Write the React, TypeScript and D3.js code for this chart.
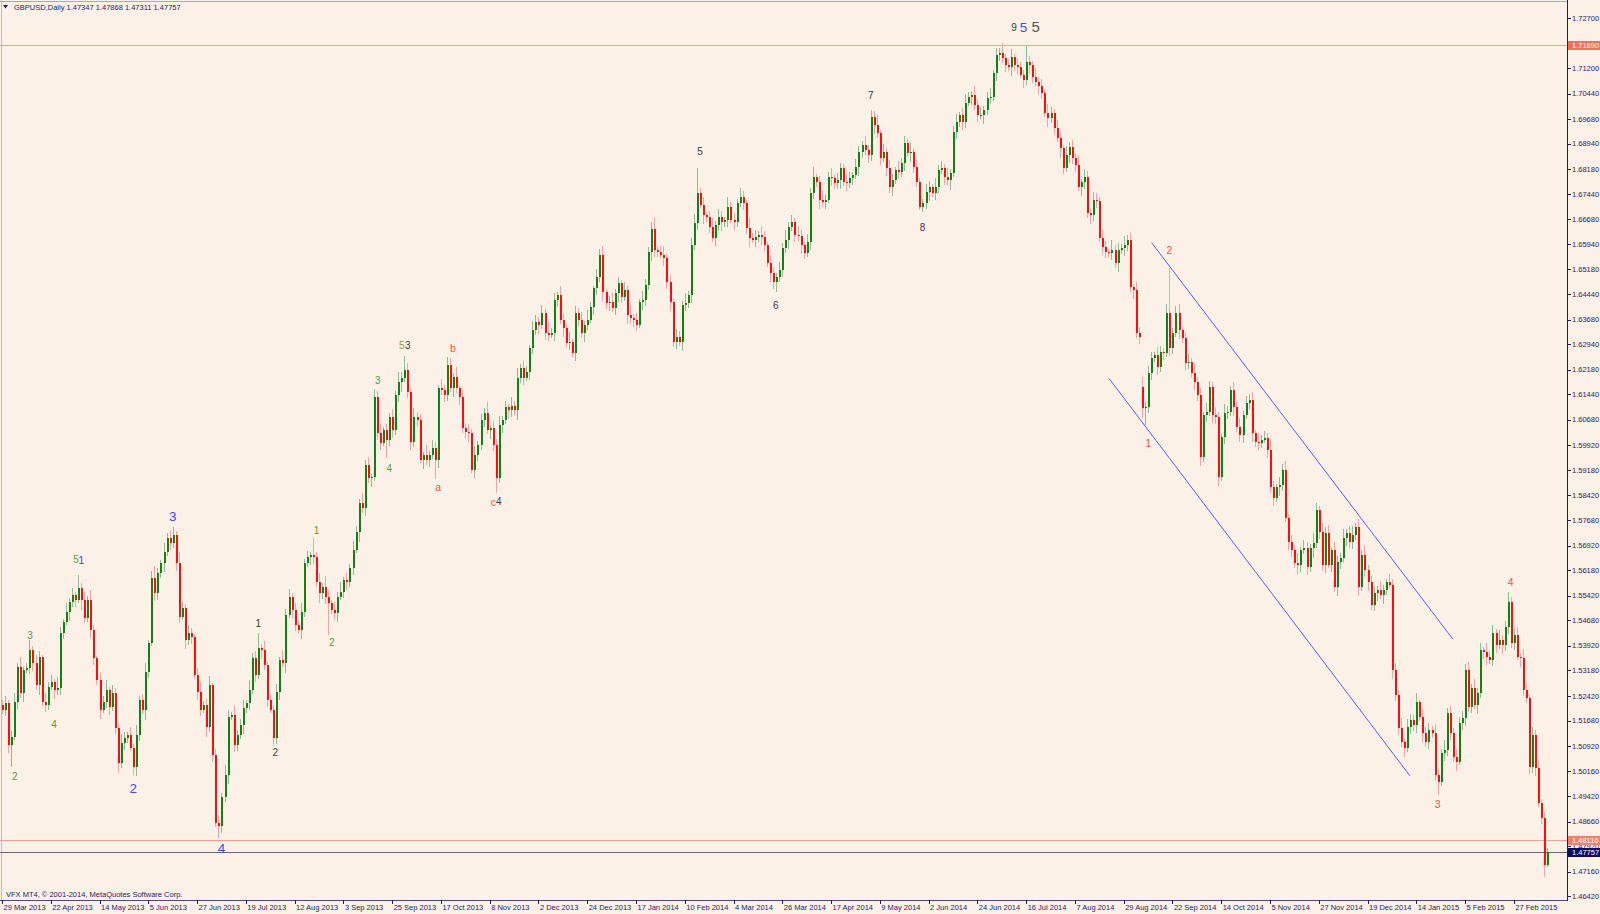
import React, { useEffect, useRef } from "react";
import * as d3 from "d3";

// GBPUSD daily, 29 Mar 2013 .. 16 Mar 2015 (closes; open = previous close)
const firstOpen = 1.5215;

const closes2013a = [
  1.5200, 1.5221, 1.5095, 1.5119, 1.5224, 1.5328, 1.5251, 1.5319, 1.5325, 1.5379,
  1.5340, 1.5274, 1.5358, 1.5224, 1.5215, 1.5268, 1.5283, 1.5260, 1.5266, 1.5430,
  1.5463, 1.5493, 1.5523, 1.5544, 1.5529, 1.5565, 1.5529, 1.5475, 1.5529, 1.5439,
  1.5355, 1.5289, 1.5200, 1.5224, 1.5260, 1.5209, 1.5251, 1.5146, 1.5041, 1.5101,
  1.5116, 1.5125, 1.5086, 1.5029, 1.5125, 1.5230, 1.5200, 1.5313, 1.5400, 1.5595,
  1.5550, 1.5610, 1.5640, 1.5672, 1.5714, 1.5699, 1.5723, 1.5640, 1.5478, 1.5505,
  1.5409, 1.5430, 1.5418, 1.5304, 1.5254, 1.5200, 1.5215, 1.5149, 1.5274, 1.5065,
  1.4862, 1.4853, 1.4939, 1.5005, 1.5179, 1.5185, 1.5095, 1.5125, 1.5155, 1.5206,
  1.5221, 1.5260, 1.5355, 1.5304, 1.5385,
];

const closes2013b = [
  1.5379, 1.5334, 1.5230, 1.5200, 1.5116, 1.5254, 1.5349, 1.5340, 1.5484, 1.5538,
  1.5499, 1.5454, 1.5439, 1.5493, 1.5640, 1.5657, 1.5663, 1.5657, 1.5583, 1.5550,
  1.5568, 1.5538, 1.5520, 1.5499, 1.5490, 1.5538, 1.5553, 1.5589, 1.5583, 1.5625,
  1.5678, 1.5732, 1.5819, 1.5804, 1.5933, 1.5894, 1.5897, 1.6136, 1.6028, 1.5999,
  1.6037, 1.6008, 1.6076, 1.6037, 1.6142, 1.6181, 1.6193, 1.6217, 1.6151, 1.6002,
  1.6076, 1.6067, 1.5948, 1.5963, 1.5948, 1.5963, 1.5984, 1.5948, 1.6163, 1.6157,
  1.6142, 1.6232, 1.6163, 1.6196, 1.6163, 1.6136, 1.6043, 1.6031, 1.6028, 1.5918,
  1.5963, 1.5993, 1.6067, 1.6088, 1.6037, 1.6043, 1.5993, 1.5894, 1.6052, 1.6067,
  1.6106, 1.6097, 1.6109, 1.6097, 1.6193,
];

const closes2014a = [
  1.6223, 1.6193, 1.6211, 1.6283, 1.6337, 1.6361, 1.6352, 1.6388, 1.6328, 1.6322,
  1.6328, 1.6426, 1.6441, 1.6367, 1.6343, 1.6298, 1.6301, 1.6268, 1.6388, 1.6367,
  1.6328, 1.6352, 1.6367, 1.6405, 1.6462, 1.6495, 1.6561, 1.6450, 1.6417, 1.6420,
  1.6402, 1.6447, 1.6477, 1.6435, 1.6456, 1.6382, 1.6373, 1.6367, 1.6352, 1.6420,
  1.6426, 1.6471, 1.6570, 1.6639, 1.6576, 1.6570, 1.6561, 1.6552, 1.6480, 1.6420,
  1.6301, 1.6316, 1.6301, 1.6411, 1.6417, 1.6441, 1.6591, 1.6657, 1.6747, 1.6711,
  1.6681, 1.6675, 1.6645, 1.6612, 1.6651, 1.6675, 1.6660, 1.6666, 1.6705, 1.6666,
  1.6660, 1.6717, 1.6735, 1.6717, 1.6642, 1.6612, 1.6606, 1.6615, 1.6621, 1.6615,
  1.6591, 1.6537, 1.6507, 1.6480, 1.6495, 1.6516,
];

const closes2014b = [
  1.6582, 1.6606, 1.6645, 1.6660, 1.6621, 1.6618, 1.6591, 1.6567, 1.6600, 1.6747,
  1.6794, 1.6779, 1.6726, 1.6720, 1.6726, 1.6794, 1.6791, 1.6776, 1.6785, 1.6821,
  1.6779, 1.6776, 1.6791, 1.6800, 1.6824, 1.6869, 1.6890, 1.6875, 1.6860, 1.6974,
  1.6950, 1.6926, 1.6851, 1.6869, 1.6821, 1.6764, 1.6785, 1.6815, 1.6809, 1.6836,
  1.6896, 1.6866, 1.6869, 1.6824, 1.6779, 1.6705, 1.6717, 1.6750, 1.6764, 1.6747,
  1.6764, 1.6815, 1.6821, 1.6794, 1.6785, 1.6806, 1.6929, 1.6959, 1.6980, 1.6959,
  1.7016, 1.7034, 1.7040, 1.7010, 1.6980, 1.6980, 1.6995, 1.7031, 1.7034, 1.7106,
  1.7159, 1.7165, 1.7150, 1.7130, 1.7124, 1.7153, 1.7130, 1.7124, 1.7100, 1.7085,
  1.7138, 1.7130, 1.7094, 1.7079, 1.7067, 1.7046,
];

const closes2014c = [
  1.6986, 1.6971, 1.6986, 1.6941, 1.6911, 1.6881, 1.6821, 1.6860, 1.6884, 1.6851,
  1.6830, 1.6764, 1.6779, 1.6794, 1.6687, 1.6681, 1.6726, 1.6723, 1.6612, 1.6585,
  1.6570, 1.6567, 1.6576, 1.6537, 1.6576, 1.6582, 1.6591, 1.6606, 1.6465, 1.6456,
  1.6328, 1.6316, 1.6103, 1.6106, 1.6208, 1.6253, 1.6262, 1.6226, 1.6271, 1.6268,
  1.6388, 1.6283, 1.6328, 1.6388, 1.6337, 1.6313, 1.6238, 1.6241, 1.6208, 1.6181,
  1.6142, 1.5957, 1.6082, 1.6091, 1.6166, 1.6082, 1.6076, 1.5897, 1.6017, 1.6088,
  1.6091, 1.6157, 1.6106, 1.6046, 1.6022, 1.6082, 1.6118, 1.6127, 1.6028, 1.6002,
  1.5999, 1.6008, 1.6014, 1.5978, 1.5867, 1.5834, 1.5867, 1.5873, 1.5918, 1.5774,
  1.5702, 1.5678, 1.5640, 1.5634,
];

const closes2015 = [
  1.5678, 1.5684, 1.5628, 1.5684, 1.5699, 1.5798, 1.5732, 1.5634, 1.5729, 1.5634,
  1.5678, 1.5568, 1.5642, 1.5654, 1.5714, 1.5729, 1.5702, 1.5723, 1.5747, 1.5568,
  1.5663, 1.5619, 1.5583, 1.5514, 1.5550, 1.5559, 1.5544, 1.5559, 1.5583, 1.5574,
  1.5319, 1.5245, 1.5146, 1.5104, 1.5086, 1.5149, 1.5170, 1.5155, 1.5224, 1.5179,
  1.5131, 1.5104, 1.5140, 1.5131, 1.5005, 1.4984, 1.5071, 1.5080, 1.5191, 1.5131,
  1.5059, 1.5044, 1.5161, 1.5176, 1.5319, 1.5209, 1.5266, 1.5215, 1.5251, 1.5379,
  1.5373, 1.5358, 1.5349, 1.5430, 1.5394, 1.5409, 1.5394, 1.5448, 1.5523, 1.5400,
  1.5424, 1.5358, 1.5355, 1.5260, 1.5236, 1.5029,
  1.5125, 1.5026, 1.4921, 1.4877, 1.47347, 1.47757,
];

// weekend gap opens [bar, open]
const gapOpens: [number, number][] = [[374, 1.6166]];

// wick length above the body, pips
const upWick = [
  14, 22, 9, 18, 27, 12, 30, 8, 16, 30, 11, 24, 19, 7, 28, 15, 21, 10, 33, 17,
  9, 26, 13, 20, 8, 39, 16, 25, 11, 31, 14, 7, 22, 18, 29, 10, 23, 15, 12, 27,
  19, 8, 24, 13, 30, 11, 17, 26, 9, 21, 35, 14, 10, 28, 16, 20, 24, 12, 33, 18,
  11, 25, 15, 9, 22, 30, 13, 19, 27, 8, 17, 24, 12, 29, 20, 10, 26, 14, 18, 23,
  9, 31, 16, 21, 45, 12, 27, 10, 19, 14, 23, 8, 30, 17, 25, 11, 22, 15, 28, 13,
  20, 9, 51, 17, 26, 12, 33, 18, 10, 24, 15, 29, 8, 21, 13, 27, 19, 11, 30, 16,
  23, 10, 24, 18, 28, 9, 20, 14, 25, 12, 31, 17, 42, 22, 11, 26, 15, 19, 8, 29,
  13, 24, 18, 10, 27, 16, 24, 21, 12, 30, 9, 22, 17, 25, 14, 28, 11, 20, 15, 33,
  10, 23, 18, 27, 12, 19, 8, 26, 15, 30, 13, 21, 17, 9, 28, 20, 14, 24, 11, 32,
  16, 22, 10, 27, 18, 13, 29, 9, 21, 15, 25, 12, 30, 17, 8, 23, 19, 26, 11, 20,
  28, 14, 18, 9, 24, 16, 31, 12, 21, 10, 27, 19, 15, 22, 33, 11, 17, 26, 13, 20,
  9, 25, 18, 14, 30, 12, 21, 27, 74, 16, 23, 10, 19, 28, 13, 24, 17, 9, 31, 15,
  22, 12, 26, 18, 10, 29, 15, 21, 13, 27, 17, 9, 24, 19, 11, 25, 14, 30, 16, 20,
  12, 27, 18, 9, 23, 15, 32, 11, 20, 26, 14, 17, 28, 10, 22, 16, 13, 25, 19, 9,
  24, 17, 12, 28, 15, 21, 19, 30, 10, 23, 14, 26, 18, 11, 27, 16, 20, 13, 29, 9,
  21, 14, 11, 25, 18, 10, 27, 16, 22, 13, 29, 12, 19, 24, 9, 20, 26, 15, 11, 28,
  17, 23, 12, 19, 27, 10, 22, 15, 30, 13, 18, 25, 11, 21, 16, 14, 51, 20, 12, 26,
  15, 22, 10, 28, 17, 13, 24, 19, 9, 27, 14, 21, 16, 30, 11, 25, 18, 12, 23, 20,
  13, 26, 18, 10, 29, 16, 22, 12, 27, 15, 20, 11, 25, 17, 30, 14, 21, 19, 9, 24,
  18, 12, 28, 134, 16, 22, 27, 10, 19, 25, 13, 30, 15, 21, 11, 26, 18, 14, 24, 17,
  10, 27, 19, 13, 24, 16, 29, 12, 21, 18, 25, 11, 28, 15, 20, 14, 33, 17, 9, 23,
  19, 26, 13, 22, 16, 29, 11, 24, 18, 14, 30, 21, 12, 27, 17, 23, 10, 25, 19, 15,
  28, 13, 20, 26, 11, 24, 17, 31, 15, 19, 22, 12, 27, 16, 9, 25, 18, 21, 14, 30,
  12, 23, 19, 15, 28, 10, 24, 17, 21, 13, 26, 18, 11, 29, 16, 20, 14, 25, 19, 22,
  17, 24, 13, 28, 15, 21, 10, 26, 19, 23, 12, 29, 16, 18, 30, 14, 20, 25, 11, 27,
  18, 13, 24, 16, 21, 12, 19, 11.1,
];

// wick length below the body, pips
const downWick = [
  12, 19, 25, 66, 10, 21, 14, 28, 9, 17, 23, 13, 30, 11, 20, 16, 8, 26, 15, 22,
  18, 10, 27, 14, 22, 9, 31, 16, 12, 24, 20, 13, 28, 8, 19, 25, 11, 17, 29, 14,
  21, 15, 10, 24, 26, 18, 12, 29, 16, 9, 23, 20, 14, 27, 11, 19, 13, 25, 17, 10,
  28, 14, 20, 11, 24, 17, 9, 30, 15, 22, 12, 36, 20, 16, 26, 10, 21, 18, 13, 27,
  15, 22, 11, 19, 12, 28, 14, 20, 9, 21, 17, 25, 13, 30, 10, 23, 18, 12, 26, 16,
  11, 24, 19, 14, 29, 17, 22, 96, 13, 20, 27, 10, 18, 25, 15, 21, 9, 28, 16, 23,
  14, 26, 12, 19, 22, 10, 54, 17, 24, 13, 20, 29, 11, 18, 25, 15, 21, 9, 27, 16,
  22, 12, 57, 25, 14, 20, 17, 11, 28, 16, 23, 13, 19, 26, 10, 24, 18, 15, 21, 12,
  27, 17, 45, 14, 22, 11, 25, 19, 13, 29, 16, 20, 10, 24, 18, 14, 26, 12, 21, 17,
  9, 24, 19, 13, 27, 15, 21, 11, 25, 18, 14, 28, 16, 10, 22, 19, 13, 26, 17, 23,
  12, 20, 25, 16, 11, 28, 14, 22, 18, 9, 24, 17, 13, 26, 20, 15, 10, 23, 19, 27,
  14, 21, 11, 26, 18, 13, 24, 16, 20, 10, 27, 15, 19, 12, 23, 17, 28, 14, 21, 9,
  25, 16, 12, 22, 18, 28, 10, 20, 14, 24, 17, 11, 26, 19, 30, 13, 21, 15, 27, 12,
  20, 14, 26, 17, 11, 23, 19, 13, 28, 15, 21, 10, 24, 18, 16, 27, 12, 22, 14, 19,
  11, 25, 18, 13, 22, 16, 28, 14, 20, 10, 24, 17, 26, 12, 19, 15, 23, 11, 27, 18,
  14, 10, 15, 19, 26, 13, 21, 17, 11, 24, 16, 28, 12, 20, 15, 23, 18, 10, 25, 14,
  21, 13, 27, 16, 19, 11, 24, 18, 14, 22, 12, 26, 17, 20, 10, 23, 15, 28, 19, 13,
  24, 17, 11, 26, 15, 20, 13, 28, 18, 12, 23, 16, 21, 10, 25, 19, 14, 27, 17, 22,
  12, 25, 18, 14, 21, 16, 27, 11, 23, 19, 13, 26, 15, 20, 28, 49, 17, 22, 12, 24,
  16, 21, 13, 25, 19, 11, 27, 15, 22, 18, 12, 24, 17, 26, 14, 20, 10, 23, 19, 28,
  13, 22, 17, 11, 26, 15, 20, 24, 12, 18, 27, 14, 21, 16, 10, 25, 19, 23, 13, 28,
  17, 12, 24, 19, 14, 26, 21, 11, 23, 16, 28, 13, 20, 18, 25, 10, 22, 15, 27, 19,
  12, 24, 17, 21, 14, 28, 11, 20, 26, 15, 19, 23, 13, 27, 16, 10, 25, 18, 22, 14,
  26, 13, 20, 17, 24, 11, 28, 16, 21, 14, 19, 39, 12, 25, 18, 22, 15, 27, 10, 20,
  23, 16, 19, 12, 27, 14, 21, 25, 11, 18, 24, 13, 26, 17, 20, 15, 22, 10, 28, 19,
  14, 21, 17, 25, 12, 19, 35, 3.6,
];

// time axis: one label every 16 bars
const dateLabels = [
  "29 Mar 2013", "22 Apr 2013", "14 May 2013", "5 Jun 2013", "27 Jun 2013", "19 Jul 2013",
  "12 Aug 2013", "3 Sep 2013", "25 Sep 2013", "17 Oct 2013", "8 Nov 2013", "2 Dec 2013",
  "24 Dec 2013", "17 Jan 2014", "10 Feb 2014", "4 Mar 2014", "26 Mar 2014", "17 Apr 2014",
  "9 May 2014", "2 Jun 2014", "24 Jun 2014", "16 Jul 2014", "7 Aug 2014", "29 Aug 2014",
  "22 Sep 2014", "14 Oct 2014", "5 Nov 2014", "27 Nov 2014", "19 Dec 2014", "14 Jan 2015",
  "5 Feb 2015", "27 Feb 2015",
];

const priceTicks = [
  "1.72700", "1.71950", "1.71200", "1.70440", "1.69680", "1.68940", "1.68180", "1.67440",
  "1.66680", "1.65940", "1.65180", "1.64440", "1.63680", "1.62940", "1.62180", "1.61440",
  "1.60680", "1.59920", "1.59180", "1.58420", "1.57680", "1.56920", "1.56180", "1.55420",
  "1.54680", "1.53920", "1.53180", "1.52420", "1.51680", "1.50920", "1.50160", "1.49420",
  "1.48660", "1.47920", "1.47160", "1.46420",
];

const levelLines = [1.7189, 1.48116];
const bidPrice = 1.47757;

// trend channel [bar0, price0, bar1, price1]
const channelLines: [number, number, number, number][] = [
  [377.2, 1.6598, 476.0, 1.5412],
  [363.2, 1.6192, 461.9, 1.5003],
];

// wave counts: [bar, price, text, kind]
const waveLabels: [number, number, string, string][] = [
  [4.2, 1.5002, "2", "g"],
  [9.2, 1.5424, "3", "g"],
  [17.1, 1.5157, "4", "g"],
  [24.3, 1.5649, "5", "g"],
  [26.0, 1.5649, "1", "bm"],
  [43.1, 1.4967, "2", "B"],
  [56.0, 1.578, "3", "B"],
  [72.0, 1.4787, "4", "B"],
  [84.1, 1.5459, "1", "k"],
  [89.7, 1.5074, "2", "k"],
  [103.2, 1.5736, "1", "g"],
  [108.2, 1.5402, "2", "g"],
  [123.3, 1.6187, "3", "g"],
  [127.1, 1.5923, "4", "g"],
  [131.2, 1.629, "5", "o"],
  [133.1, 1.629, "3", "k"],
  [147.9, 1.6282, "b", "r"],
  [143.1, 1.5866, "a", "r"],
  [161.2, 1.5823, "c", "r"],
  [163.0, 1.5823, "4", "k"],
  [229.0, 1.687, "5", "k"],
  [253.9, 1.641, "6", "k"],
  [285.0, 1.704, "7", "k"],
  [302.0, 1.6644, "8", "k"],
  [332.0, 1.7243, "9", "k"],
  [335.1, 1.7243, "5", "B"],
  [339.1, 1.7244, "5", "K"],
  [383.0, 1.6576, "2", "r"],
  [376.1, 1.5998, "1", "r"],
  [471.0, 1.4919, "3", "r"],
  [495.0, 1.5582, "4", "r"],
];

const labelStyle: Record<string, { color: string; size: number }> = {
  g: { color: "#5b9b3b", size: 10 },
  o: { color: "#8c9c3a", size: 10 },
  bm: { color: "#4646ff", size: 11 },
  B: { color: "#4646ff", size: 13.5 },
  k: { color: "#3a3a3a", size: 10 },
  K: { color: "#555555", size: 15 },
  r: { color: "#f4553f", size: 10.5 },
};

const BG = "#fcf1e6";
const AXIS = "#1c1c6c";
const FONT = "'Liberation Sans', Arial, sans-serif";

const App: React.FC = () => {
  const svgRef = useRef<SVGSVGElement | null>(null);

  useEffect(() => {
    if (!svgRef.current) return;
    const svg = d3.select(svgRef.current);
    svg.selectAll("*").remove();

    const closes = [
      ...closes2013a, ...closes2013b, ...closes2014a,
      ...closes2014b, ...closes2014c, ...closes2015,
    ];
    const n = closes.length;
    const plotRight = 1567;
    const plotBottom = 900;

    const x = d3.scaleLinear().domain([0, n - 1]).range([2, 2 + (n - 1) * 3.048]);
    const y = d3.scaleLinear().domain([1.712, 1.4642]).range([68.3, 896.4]);

    const gapMap = new Map(gapOpens);
    const bars = closes.map((c, i) => {
      const o = i === 0 ? firstOpen : gapMap.get(i) ?? closes[i - 1];
      const h = Math.max(o, c) + (upWick[i] ?? 15) / 10000;
      const l = Math.min(o, c) - (downWick[i] ?? 15) / 10000;
      return { i, o, h, l, c };
    });

    svg.append("rect").attr("width", 1600).attr("height", 914).attr("fill", BG);

    // frame
    svg.append("line").attr("x1", 0).attr("x2", plotRight).attr("y1", 1.5).attr("y2", 1.5)
      .attr("stroke", "#a8a8b8");
    svg.append("line").attr("x1", 1.5).attr("x2", 1.5).attr("y1", 0).attr("y2", plotBottom)
      .attr("stroke", "#c4b4d4");

    // horizontal levels
    svg.selectAll("line.level")
      .data(levelLines)
      .enter()
      .append("line")
      .attr("class", "level")
      .attr("x1", 0)
      .attr("x2", plotRight)
      .attr("y1", d => Math.round(y(d)) + 0.5)
      .attr("y2", d => Math.round(y(d)) + 0.5)
      .attr("stroke", "#f4a090");
    svg.append("line")
      .attr("x1", 0).attr("x2", plotRight)
      .attr("y1", Math.round(y(bidPrice)) + 0.5).attr("y2", Math.round(y(bidPrice)) + 0.5)
      .attr("stroke", "#5f6b78");

    // channel
    svg.selectAll("line.chan")
      .data(channelLines)
      .enter()
      .append("line")
      .attr("x1", d => x(d[0]))
      .attr("y1", d => y(d[1]))
      .attr("x2", d => x(d[2]))
      .attr("y2", d => y(d[3]))
      .attr("stroke", "#5a5aff")
      .attr("stroke-width", 1);

    // candles
    const cg = svg.append("g").attr("shape-rendering", "crispEdges");
    cg.selectAll("line.wick")
      .data(bars)
      .enter()
      .append("line")
      .attr("x1", d => Math.round(x(d.i)) + 0.5)
      .attr("x2", d => Math.round(x(d.i)) + 0.5)
      .attr("y1", d => y(d.h))
      .attr("y2", d => y(d.l))
      .attr("stroke", d => (d.c >= d.o ? "#93bb8d" : "#f5a3a0"));
    cg.selectAll("rect.body")
      .data(bars)
      .enter()
      .append("rect")
      .attr("x", d => Math.round(x(d.i)))
      .attr("y", d => y(Math.max(d.o, d.c)))
      .attr("width", 2)
      .attr("height", d => Math.max(1, y(Math.min(d.o, d.c)) - y(Math.max(d.o, d.c))))
      .attr("fill", d => (d.c >= d.o ? "#138013" : "#ff0d0d"));

    // wave labels
    svg.selectAll("text.wave")
      .data(waveLabels)
      .enter()
      .append("text")
      .attr("x", d => x(d[0]))
      .attr("y", d => y(d[1]))
      .attr("dy", "0.36em")
      .attr("text-anchor", "middle")
      .attr("font-family", FONT)
      .attr("font-size", d => labelStyle[d[3]].size)
      .attr("fill", d => labelStyle[d[3]].color)
      .text(d => d[2]);

    // right price axis
    svg.append("line").attr("x1", plotRight + 0.5).attr("x2", plotRight + 0.5)
      .attr("y1", 0).attr("y2", plotBottom + 1).attr("stroke", AXIS);
    const pt = svg.append("g");
    pt.selectAll("line")
      .data(priceTicks)
      .enter()
      .append("line")
      .attr("x1", plotRight)
      .attr("x2", plotRight + 4)
      .attr("y1", d => Math.round(y(+d)) + 0.5)
      .attr("y2", d => Math.round(y(+d)) + 0.5)
      .attr("stroke", AXIS);
    pt.selectAll("text")
      .data(priceTicks)
      .enter()
      .append("text")
      .attr("x", plotRight + 5)
      .attr("y", d => y(+d))
      .attr("dy", "0.35em")
      .attr("font-family", FONT)
      .attr("font-size", 7.5)
      .attr("fill", AXIS)
      .text(d => d);

    // price tags
    const tags = [
      { p: levelLines[0], fill: "#f2705e", txt: levelLines[0].toFixed(5) },
      { p: levelLines[1], fill: "#f2806c", txt: levelLines[1].toFixed(5) },
      { p: bidPrice, fill: "#0c0c5e", txt: bidPrice.toFixed(5) },
    ];
    const tg = svg.append("g");
    tg.selectAll("rect")
      .data(tags)
      .enter()
      .append("rect")
      .attr("x", plotRight + 1)
      .attr("y", d => Math.round(y(d.p)) - 4)
      .attr("width", 1600 - plotRight - 1)
      .attr("height", 9)
      .attr("fill", d => d.fill);
    tg.selectAll("text")
      .data(tags)
      .enter()
      .append("text")
      .attr("x", plotRight + 5)
      .attr("y", d => Math.round(y(d.p)) + 0.5)
      .attr("dy", "0.35em")
      .attr("font-family", FONT)
      .attr("font-size", 7.5)
      .attr("fill", "#ffffff")
      .text(d => d.txt);

    // time axis
    svg.append("line").attr("x1", 0).attr("x2", plotRight).attr("y1", plotBottom + 0.5)
      .attr("y2", plotBottom + 0.5).attr("stroke", "#4a4a72");
    const tx = svg.append("g");
    tx.selectAll("line")
      .data(dateLabels)
      .enter()
      .append("line")
      .attr("x1", (_, i) => Math.round(x(i * 16)) + 0.5)
      .attr("x2", (_, i) => Math.round(x(i * 16)) + 0.5)
      .attr("y1", plotBottom)
      .attr("y2", plotBottom + 4)
      .attr("stroke", AXIS);
    tx.selectAll("text")
      .data(dateLabels)
      .enter()
      .append("text")
      .attr("x", (_, i) => x(i * 16) + 1.5)
      .attr("y", plotBottom + 10)
      .attr("font-family", FONT)
      .attr("font-size", 7.5)
      .attr("fill", AXIS)
      .text(d => d);

    // header and footer
    svg.append("path").attr("d", "M3,5 L8,5 L5.5,8.5 Z").attr("fill", AXIS);
    svg.append("text")
      .attr("x", 14).attr("y", 9.5)
      .attr("font-family", FONT).attr("font-size", 7.5).attr("fill", AXIS)
      .text(`GBPUSD,Daily  1.47347 1.47868 1.47311 ${bidPrice.toFixed(5)}`);
    svg.append("text")
      .attr("x", 6).attr("y", plotBottom - 3)
      .attr("font-family", FONT).attr("font-size", 7.5).attr("fill", AXIS)
      .text("VFX MT4, © 2001-2014, MetaQuotes Software Corp.");
  }, []);

  return (
    <svg
      ref={svgRef}
      width={1600}
      height={914}
      style={{ position: "absolute", left: 0, top: 0, display: "block" }}
    />
  );
};

export default App;
